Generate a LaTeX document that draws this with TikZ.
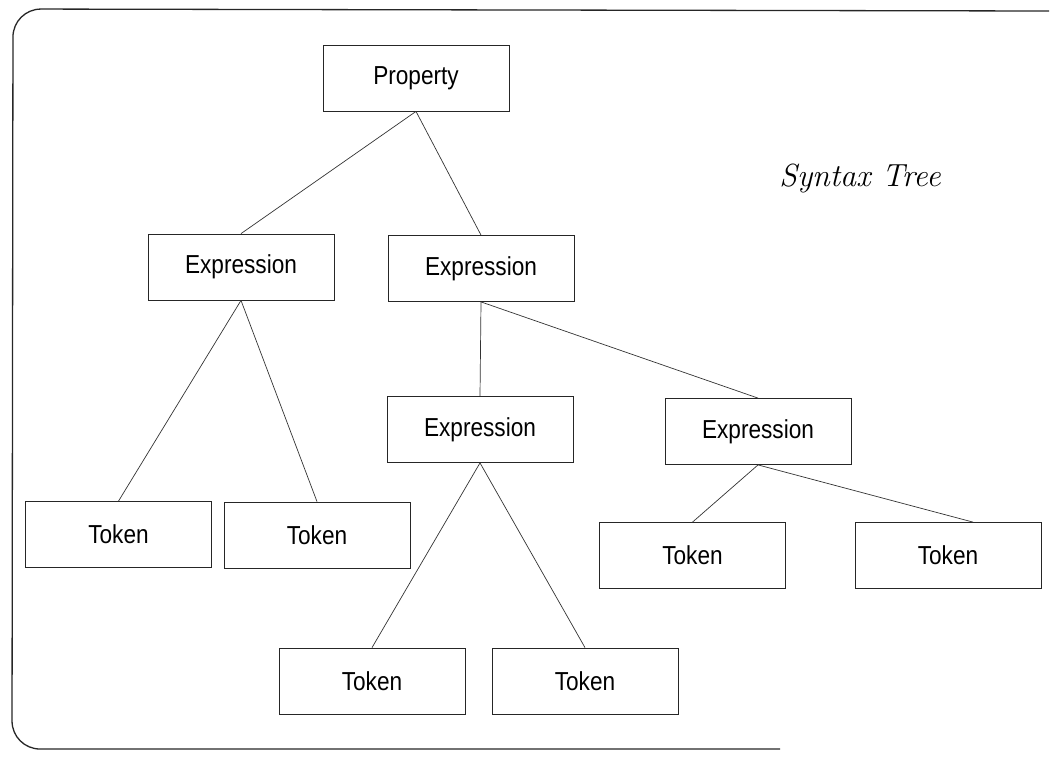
\documentclass[tikz,border=0pt]{standalone}
\usepackage{fontspec}
% narrow sans for the box labels
\newfontfamily\boxfont[FakeStretch=0.87]{Liberation Sans}
\begin{document}
\begin{tikzpicture}[x=1pt,y=-1pt,
  treebox/.style={draw=black!85, line width=0.8pt, minimum width=186pt,
    minimum height=66pt, inner sep=0pt, font=\boxfont\fontsize{26}{30}\selectfont},
  edge/.style={draw=black!80, line width=0.7pt},
  frame/.style={draw=black!85, line width=1.3pt, rounded corners=28pt},
  title/.style={font=\itshape\fontsize{32}{36}\selectfont, inner sep=0pt}]
\useasboundingbox (0,0) rectangle (1051,756);

% outer frame
\draw[frame] (1049,11) -- (13,9) -- (12,749) -- (780,749);

% tree nodes
\node[treebox] (p)  at (416,78)    {Property};
\node[treebox] (e1) at (241,267)   {Expression};
\node[treebox] (e2) at (481,268.5) {Expression};
\node[treebox] (e3) at (480,429.5) {Expression};
\node[treebox] (e4) at (758,431.5) {Expression};
\node[treebox] (t1) at (118.5,534.5) {Token};
\node[treebox] (t2) at (317,535)   {Token};
\node[treebox] (t3) at (372,681)   {Token};
\node[treebox] (t4) at (585,681)   {Token};
\node[treebox] (t5) at (692.5,555.5) {Token};
\node[treebox] (t6) at (948,555.5) {Token};

\node[title] (st) at (860,178) {Syntax Tree};

% connectors
\draw[edge] (p.south) -- (e1.north);
\draw[edge] (p.south) -- (e2.north);
\draw[edge] (e1.south) -- (t1.north);
\draw[edge] (e1.south) -- (t2.north);
\draw[edge] (e2.south) -- (e3.north);
\draw[edge] (e2.south) -- (e4.north);
\draw[edge] (e3.south) -- (t3.north);
\draw[edge] (e3.south) -- (t4.north);
\draw[edge] (e4.south) -- (t5.north);
\draw[edge] (e4.south) -- ([xshift=25pt]t6.north);
\end{tikzpicture}
\end{document}
